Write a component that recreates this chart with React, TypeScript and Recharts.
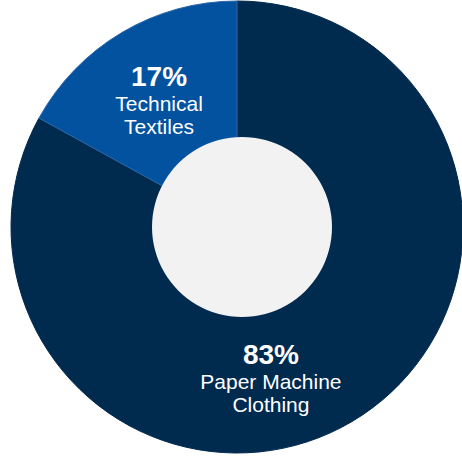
import React from 'react';
import { PieChart, Pie, Cell } from 'recharts';

const segments = ['Paper Machine Clothing', 'Technical Textiles'];
const shares = [83, 17];
const labelLines = [
  ['Paper Machine', 'Clothing'],
  ['Technical', 'Textiles'],
];
const colors = ['#012a4f', '#02529f'];
const strokes = ['#012a4f', '#2a68a8'];
const centerHole = [{ name: 'hole', value: 1 }];

// nudges for labels, relative to the default mid-angle position
const labelNudge = [
  { dx: -42, dy: 24 },
  { dx: -2, dy: 2 },
];

const data = segments.map((name, i) => ({ name, value: shares[i] }));

const RADIAN = Math.PI / 180;

const renderLabel = (props: any) => {
  const { cx, cy, midAngle, outerRadius, index, value } = props;
  const r = outerRadius * 0.66;
  const x = cx + r * Math.cos(-midAngle * RADIAN) + labelNudge[index].dx;
  const y = cy + r * Math.sin(-midAngle * RADIAN) + labelNudge[index].dy;
  const lines = labelLines[index];
  return (
    <text
      x={x}
      y={y}
      fill="#ffffff"
      textAnchor="middle"
      fontFamily="'Liberation Sans', Arial, sans-serif"
    >
      <tspan x={x} dy={-15} fontSize={28} fontWeight="bold">
        {value}%
      </tspan>
      <tspan x={x} dy={25} fontSize={21}>
        {lines[0]}
      </tspan>
      <tspan x={x} dy={23} fontSize={21}>
        {lines[1]}
      </tspan>
    </text>
  );
};

export default function App() {
  return (
    <div style={{ position: 'absolute', left: 0, top: 0, background: '#ffffff' }}>
      <PieChart width={462} height={457} margin={{ top: 0, right: 0, bottom: 0, left: 0 }}>
        <Pie
          data={data}
          dataKey="value"
          cx={237}
          cy={227}
          outerRadius={226}
          innerRadius={0}
          startAngle={90}
          endAngle={-270}
          label={renderLabel}
          labelLine={false}
          isAnimationActive={false}
        >
          {data.map((d, i) => (
            <Cell key={d.name} fill={colors[i]} stroke={strokes[i]} strokeWidth={1} />
          ))}
        </Pie>
        <Pie
          data={centerHole}
          dataKey="value"
          cx={242}
          cy={227}
          outerRadius={90}
          fill="#f2f2f2"
          stroke="none"
          isAnimationActive={false}
        />
      </PieChart>
    </div>
  );
}
